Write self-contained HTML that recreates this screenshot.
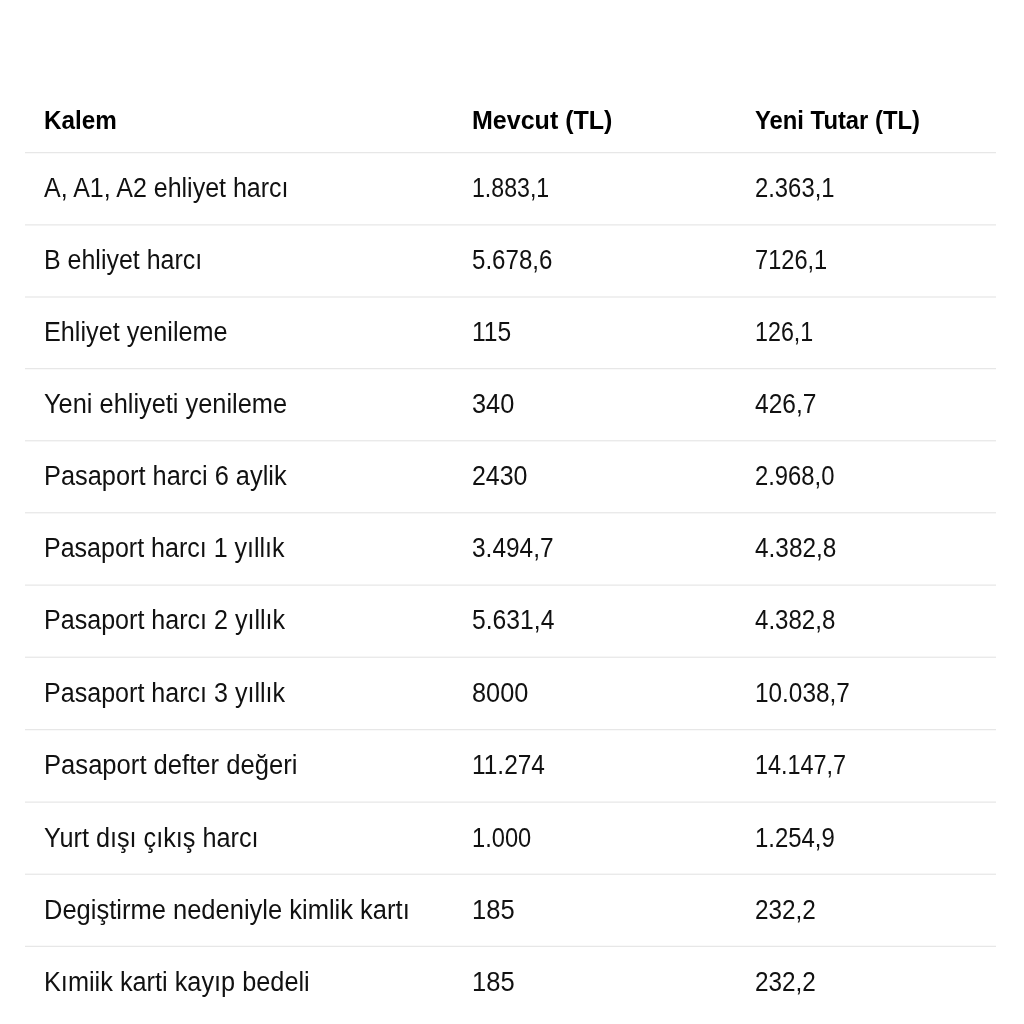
<!DOCTYPE html>
<html><head><meta charset="utf-8"><style>
html,body{margin:0;padding:0;background:#fff;width:1024px;height:1024px;overflow:hidden;position:relative}
body{filter:grayscale(1)}
.t{position:absolute;font-family:"Liberation Sans",sans-serif;font-size:27.0px;color:#111;white-space:nowrap;line-height:1;transform-origin:0 0}
.h{font-weight:bold;color:#000;font-size:26px}
.l{position:absolute;left:25px;top:0;width:971px;height:1.4px;background:#e2e2e2}
</style></head><body>

<div class="t h" style="left:44.00px;top:106.99px;transform:scaleX(0.9325)">Kalem</div>
<div class="t h" style="left:472.00px;top:106.99px;transform:scaleX(0.9628)">Mevcut (TL)</div>
<div class="t h" style="left:754.50px;top:106.99px;transform:scaleX(0.9160)">Yeni Tutar (TL)</div>
<div class="l" style="transform:translateY(152.20px)"></div>
<div class="t" style="left:44.00px;top:175.09px;transform:scaleX(0.9256)">A, A1, A2 ehliyet harcı</div>
<div class="t" style="left:472.00px;top:175.09px;transform:scaleX(0.8573)">1.883,1</div>
<div class="t" style="left:754.50px;top:175.09px;transform:scaleX(0.8825)">2.363,1</div>
<div class="l" style="transform:translateY(224.40px)"></div>
<div class="t" style="left:44.00px;top:246.84px;transform:scaleX(0.9249)">B ehliyet harcı</div>
<div class="t" style="left:472.00px;top:246.84px;transform:scaleX(0.8921)">5.678,6</div>
<div class="t" style="left:754.50px;top:246.84px;transform:scaleX(0.8748)">7126,1</div>
<div class="l" style="transform:translateY(296.50px)"></div>
<div class="t" style="left:44.00px;top:319.14px;transform:scaleX(0.9338)">Ehliyet yenileme</div>
<div class="t" style="left:472.00px;top:319.14px;transform:scaleX(0.9119)">115</div>
<div class="t" style="left:754.50px;top:319.14px;transform:scaleX(0.8617)">126,1</div>
<div class="l" style="transform:translateY(368.20px)"></div>
<div class="t" style="left:44.00px;top:390.84px;transform:scaleX(0.9399)">Yeni ehliyeti yenileme</div>
<div class="t" style="left:472.00px;top:390.84px;transform:scaleX(0.9386)">340</div>
<div class="t" style="left:754.50px;top:390.84px;transform:scaleX(0.9083)">426,7</div>
<div class="l" style="transform:translateY(440.30px)"></div>
<div class="t" style="left:44.00px;top:463.04px;transform:scaleX(0.9399)">Pasaport harci 6 aylik</div>
<div class="t" style="left:472.00px;top:463.04px;transform:scaleX(0.9237)">2430</div>
<div class="t" style="left:754.50px;top:463.04px;transform:scaleX(0.8816)">2.968,0</div>
<div class="l" style="transform:translateY(512.30px)"></div>
<div class="t" style="left:44.00px;top:535.04px;transform:scaleX(0.9266)">Pasaport harcı 1 yıllık</div>
<div class="t" style="left:472.00px;top:535.04px;transform:scaleX(0.9056)">3.494,7</div>
<div class="t" style="left:754.50px;top:535.04px;transform:scaleX(0.9028)">4.382,8</div>
<div class="l" style="transform:translateY(584.60px)"></div>
<div class="t" style="left:44.00px;top:607.24px;transform:scaleX(0.9286)">Pasaport harcı 2 yıllık</div>
<div class="t" style="left:472.00px;top:607.24px;transform:scaleX(0.9146)">5.631,4</div>
<div class="t" style="left:754.50px;top:607.24px;transform:scaleX(0.8915)">4.382,8</div>
<div class="l" style="transform:translateY(656.70px)"></div>
<div class="t" style="left:44.00px;top:679.84px;transform:scaleX(0.9286)">Pasaport harcı 3 yıllık</div>
<div class="t" style="left:472.00px;top:679.84px;transform:scaleX(0.9373)">8000</div>
<div class="t" style="left:754.50px;top:679.84px;transform:scaleX(0.9024)">10.038,7</div>
<div class="l" style="transform:translateY(729.20px)"></div>
<div class="t" style="left:44.00px;top:752.04px;transform:scaleX(0.9485)">Pasaport defter değeri</div>
<div class="t" style="left:472.00px;top:752.04px;transform:scaleX(0.9050)">11.274</div>
<div class="t" style="left:754.50px;top:752.04px;transform:scaleX(0.8667)">14.147,7</div>
<div class="l" style="transform:translateY(801.60px)"></div>
<div class="t" style="left:44.00px;top:824.94px;transform:scaleX(0.9348)">Yurt dışı çıkış harcı</div>
<div class="t" style="left:472.00px;top:824.94px;transform:scaleX(0.8761)">1.000</div>
<div class="t" style="left:754.50px;top:824.94px;transform:scaleX(0.8859)">1.254,9</div>
<div class="l" style="transform:translateY(873.70px)"></div>
<div class="t" style="left:44.00px;top:896.74px;transform:scaleX(0.9447)">Degiştirme nedeniyle kimlik kartı</div>
<div class="t" style="left:472.00px;top:896.74px;transform:scaleX(0.9455)">185</div>
<div class="t" style="left:754.50px;top:896.74px;transform:scaleX(0.9008)">232,2</div>
<div class="l" style="transform:translateY(945.80px)"></div>
<div class="t" style="left:44.00px;top:969.04px;transform:scaleX(0.9369)">Kımiik karti kayıp bedeli</div>
<div class="t" style="left:472.00px;top:969.04px;transform:scaleX(0.9455)">185</div>
<div class="t" style="left:754.50px;top:969.04px;transform:scaleX(0.9008)">232,2</div>
</body></html>
